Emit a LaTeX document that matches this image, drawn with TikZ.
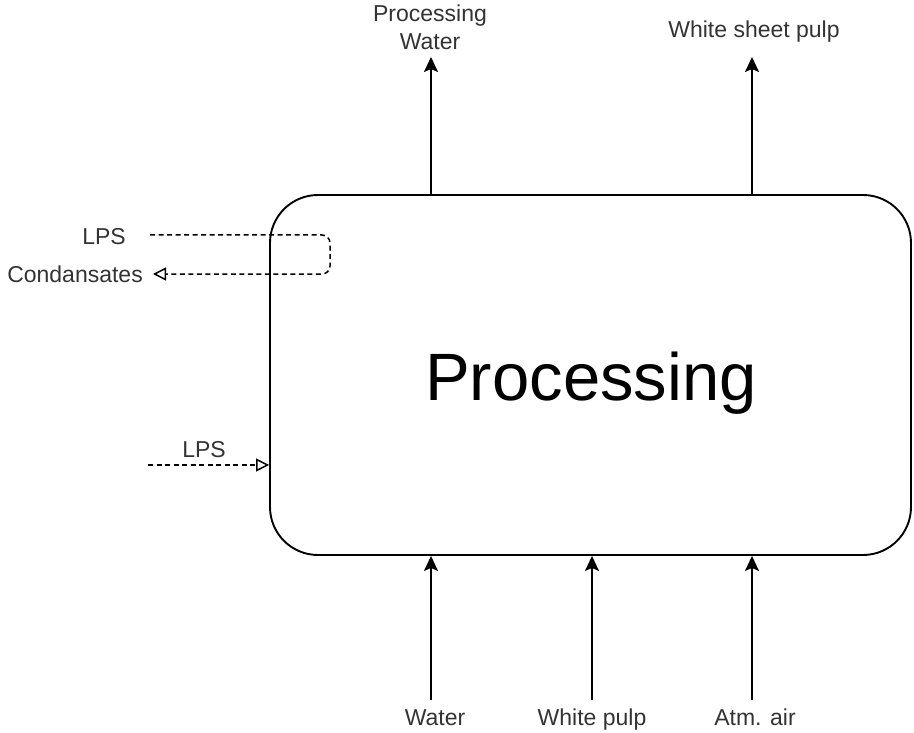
\documentclass[tikz,border=0pt]{standalone}
\usepackage{fontspec}
\setmainfont{Liberation Sans}
\usetikzlibrary{arrows.meta}
\begin{document}
\begin{tikzpicture}[x=1pt,y=-1pt,
  flow/.style={line width=1.9pt,-{Stealth[length=15pt,width=14pt,inset=3pt]}},
  steam/.style={line width=1.5pt,dash pattern=on 5pt off 3.5pt,
    -{Triangle[open,length=13pt,width=13pt,line width=1.5pt]}},
  lbl/.style={inner sep=0pt,anchor=base,font=\fontsize{23}{28}\selectfont,text=black!80,align=center},
  unit/.style={draw,line width=1.9pt,rounded corners=48pt,minimum width=641pt,
    minimum height=360pt,inner sep=0pt}]
  \useasboundingbox (0,0) rectangle (914,733);

  % main process block
  \node[unit] (proc) at (590.5,375) {};
  \node[inner sep=0pt,anchor=base,font=\fontsize{67}{70}\selectfont] (ptitle) at (591,400) {Processing};

  % products leaving at the top
  \node[lbl] (pwat) at (430,50) {Processing\\Water};
  \node[lbl] (wsp) at (754,38) {White sheet pulp};
  \coordinate (pwtip) at (431,57);
  \coordinate (wsptip) at (752,57);
  \draw[flow] (proc.north -| pwtip) -- (pwtip);
  \draw[flow] (proc.north -| wsptip) -- (wsptip);

  % feeds entering at the bottom
  \node[lbl] (wat) at (435,725) {Water};
  \node[lbl] (wpulp) at (592,725) {White pulp};
  \node[lbl] (air) at (755,725) {Atm. air};
  \coordinate (watin) at (431,700);
  \coordinate (wpin) at (592,700);
  \coordinate (airin) at (752,700);
  \draw[flow] (watin) -- (watin |- proc.south);
  \draw[flow] (wpin) -- (wpin |- proc.south);
  \draw[flow] (airin) -- (airin |- proc.south);

  % low pressure steam loop returning condensates
  \node[lbl] (lpsa) at (104,244) {LPS};
  \node[lbl,anchor=base east] (cond) at (143,283) {Condansates};
  \coordinate (lpsstart) at (150,235);
  \coordinate (loopr) at (330,254);
  \coordinate (condtip) at (153,274);
  \draw[steam,rounded corners=8pt] (lpsstart) -- (lpsstart -| loopr)
     -- (loopr |- condtip) -- (condtip);

  % low pressure steam feed
  \node[lbl] (lpsb) at (204,457) {LPS};
  \coordinate (lpsin) at (148,465);
  \draw[steam] (lpsin) -- (lpsin -| proc.west);
\end{tikzpicture}
\end{document}
